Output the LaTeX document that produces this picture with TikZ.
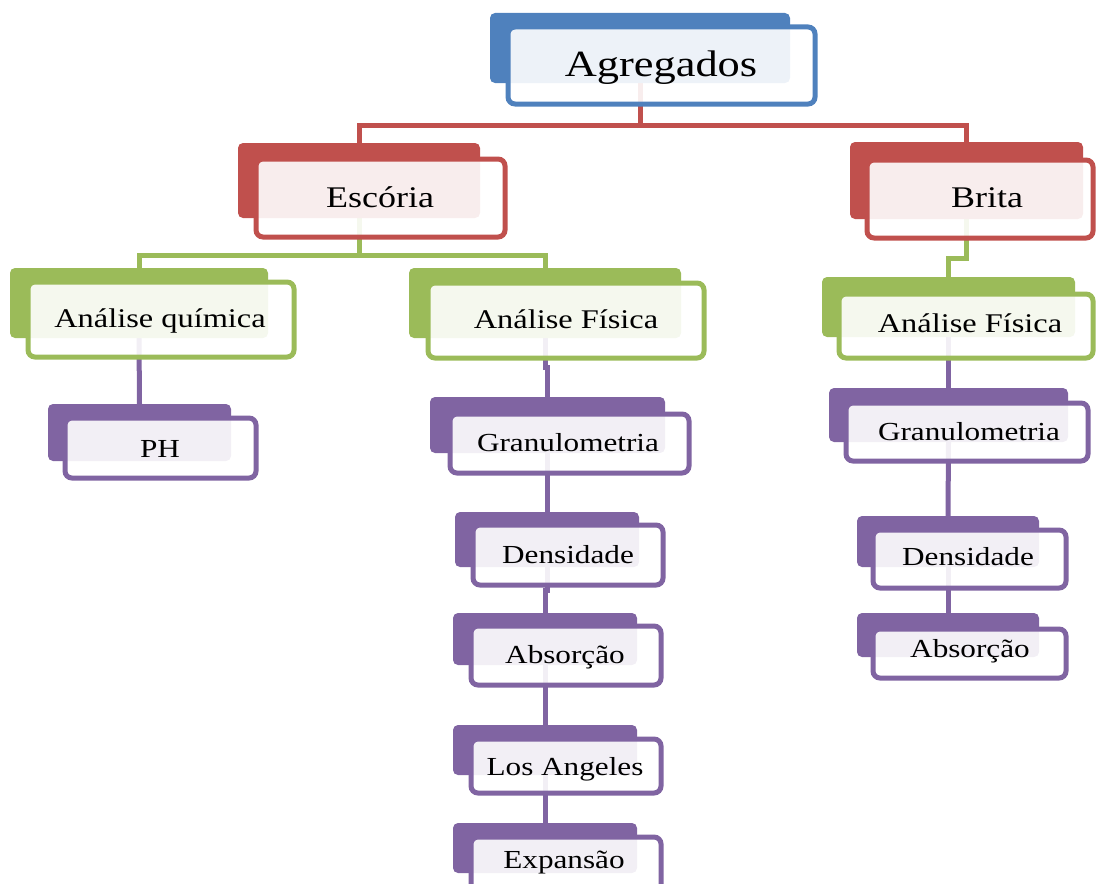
\documentclass[tikz,border=0pt]{standalone}
\usepackage{fontspec}
\setmainfont[FakeStretch=1.2]{Liberation Serif}
\usetikzlibrary{fit,calc,backgrounds}
\definecolor{cblue}{HTML}{4F81BD}
\definecolor{cred}{HTML}{C0504D}
\definecolor{cgreen}{HTML}{9BBB59}
\definecolor{cpurple}{HTML}{8064A2}
\tikzset{
  backrect/.style={inner sep=0pt, outer sep=0pt, fill=#1, rounded corners=5pt},
  frontrect/.style={inner sep=0pt, outer sep=0pt, draw=#1, line width=5pt, fill=white, fill opacity=0.9, rounded corners=7pt},
  lbl/.style={anchor=base, inner sep=0pt, text=black},
  link/.style={draw=#1, line width=5pt},
  elbow/.style={to path={|- ($(\tikztostart)!0.5!(\tikztotarget)$) -| (\tikztotarget)}},
  f36/.style={font=\fontsize{37}{41}\selectfont},
  f30/.style={font=\fontsize{30}{34}\selectfont},
  f27/.style={font=\fontsize{27}{31}\selectfont},
  f26/.style={font=\fontsize{26}{30}\selectfont}
}
\begin{document}
\begin{tikzpicture}[x=1pt,y=-1pt]
\useasboundingbox (0,0) rectangle (1097,883);
\clip (0,0) rectangle (1097,883);
% Agregados
\node[backrect=cblue, fit={(490,13)(790,83)}] (agr-b) {};
\node[frontrect=cblue, fit={(508,27)(815,104)}] (agr-f) {};
\node[lbl, f36] (agr-t) at (661,77) {Agregados};
% Escoria
\node[backrect=cred, fit={(238,143)(480,218)}] (esc-b) {};
\node[frontrect=cred, fit={(256,159)(505,237)}] (esc-f) {};
\node[lbl, f30] (esc-t) at (380,207) {Escória};
% Brita
\node[backrect=cred, fit={(850,142)(1083,219)}] (bri-b) {};
\node[frontrect=cred, fit={(867,160)(1093,238)}] (bri-f) {};
\node[lbl, f30] (bri-t) at (987,207) {Brita};
% Analise quimica
\node[backrect=cgreen, fit={(10,268)(268,338)}] (aq-b) {};
\node[frontrect=cgreen, fit={(28,282)(294,357)}] (aq-f) {};
\node[lbl, f27] (aq-t) at (160,327) {Análise química};
% Analise Fisica (middle)
\node[backrect=cgreen, fit={(409,268)(681,338)}] (afm-b) {};
\node[frontrect=cgreen, fit={(428,283)(704,358)}] (afm-f) {};
\node[lbl, f27] (afm-t) at (566,328) {Análise Física};
% Analise Fisica (right)
\node[backrect=cgreen, fit={(822,277)(1075,337)}] (afr-b) {};
\node[frontrect=cgreen, fit={(839,294)(1093,358)}] (afr-f) {};
\node[lbl, f27] (afr-t) at (970,332) {Análise Física};
% PH
\node[backrect=cpurple, fit={(48,404)(231,461)}] (ph-b) {};
\node[frontrect=cpurple, fit={(65,418)(256,478)}] (ph-f) {};
\node[lbl, f26] (ph-t) at (160,457) {PH};
% middle column
\node[backrect=cpurple, fit={(430,397)(665,453)}] (gm-b) {};
\node[frontrect=cpurple, fit={(450,414)(689,473)}] (gm-f) {};
\node[lbl, f26] (gm-t) at (568,451) {Granulometria};
\node[backrect=cpurple, fit={(455,512)(639,567)}] (dm-b) {};
\node[frontrect=cpurple, fit={(473,525)(663,585)}] (dm-f) {};
\node[lbl, f26] (dm-t) at (568,563) {Densidade};
\node[backrect=cpurple, fit={(453,613)(637,665)}] (abm-b) {};
\node[frontrect=cpurple, fit={(471,626)(661,685)}] (abm-f) {};
\node[lbl, f26] (abm-t) at (565,663) {Absorção};
\node[backrect=cpurple, fit={(453,725)(637,775)}] (lam-b) {};
\node[frontrect=cpurple, fit={(471,739)(661,793)}] (lam-f) {};
\node[lbl, f26] (lam-t) at (565,775) {Los Angeles};
\node[backrect=cpurple, fit={(453,823)(637,873)}] (exm-b) {};
\node[frontrect=cpurple, fit={(471,837)(661,897)}] (exm-f) {};
\node[lbl, f26] (exm-t) at (564,868) {Expansão};
% right column
\node[backrect=cpurple, fit={(829,388)(1068,442)}] (gr-b) {};
\node[frontrect=cpurple, fit={(846,403)(1088,461)}] (gr-f) {};
\node[lbl, f26] (gr-t) at (969,440) {Granulometria};
\node[backrect=cpurple, fit={(857,516)(1039,567)}] (dr-b) {};
\node[frontrect=cpurple, fit={(873,530)(1066,588)}] (dr-f) {};
\node[lbl, f26] (dr-t) at (968,565) {Densidade};
\node[backrect=cpurple, fit={(857,613)(1039,657)}] (abr-b) {};
\node[frontrect=cpurple, fit={(873,629)(1066,678)}] (abr-f) {};
\node[lbl, f26] (abr-t) at (970,657) {Absorção};
% connectors
\begin{scope}[on background layer]
\coordinate (j1) at (640,125);
\coordinate (j2) at (359,255);
\coordinate (j3) at (966.5,258);
\draw[link=cred] (agr-b.south) -- (j1) -| (esc-b.north);
\draw[link=cred] (j1) -| (bri-b.north);
\draw[link=cgreen] (esc-b.south) -- (j2) -| (aq-b.north);
\draw[link=cgreen] (j2) -| (afm-b.north);
\draw[link=cgreen] (bri-b.south) -- (j3) -| (afr-b.north);
\draw[link=cpurple] (aq-b.south) -- (ph-b.north);
\draw[link=cpurple] (afm-b.south) to[elbow] (gm-b.north);
\draw[link=cpurple] (gm-b.south) to[elbow] (dm-b.north);
\draw[link=cpurple] (dm-b.south) to[elbow] (abm-b.north);
\draw[link=cpurple] (abm-b.south) to[elbow] (lam-b.north);
\draw[link=cpurple] (lam-b.south) to[elbow] (exm-b.north);
\draw[link=cpurple] (afr-b.south) -- (gr-b.north);
\draw[link=cpurple] (gr-b.south) -- (dr-b.north);
\draw[link=cpurple] (dr-b.south) -- (abr-b.north);
\end{scope}
\end{tikzpicture}
\end{document}
